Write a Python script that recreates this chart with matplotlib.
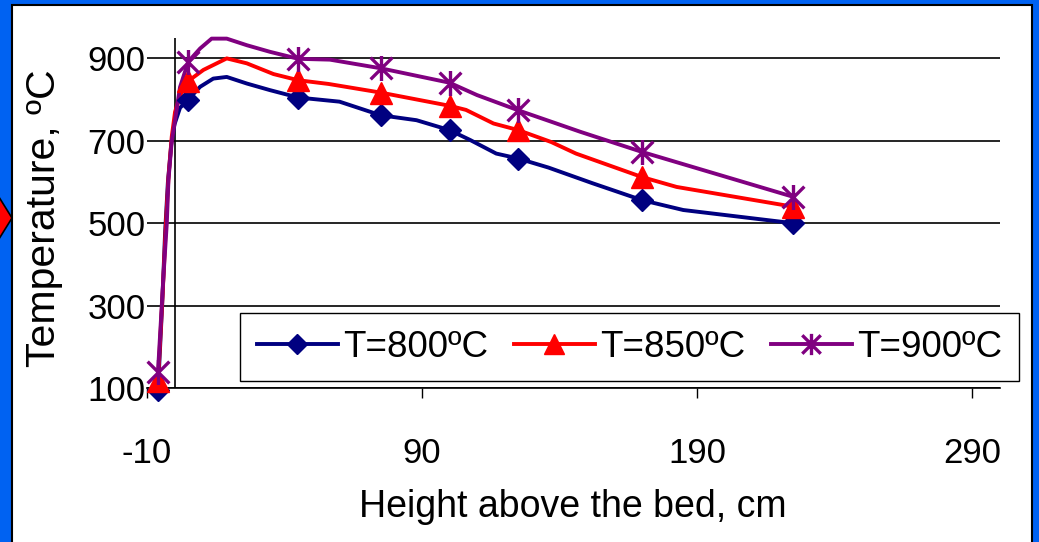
import matplotlib
matplotlib.use("Agg")
import matplotlib.pyplot as plt
from matplotlib.lines import Line2D
from matplotlib.path import Path
from matplotlib.patches import Rectangle, Polygon

plt.rcParams['font.family'] = ['Liberation Sans', 'DejaVu Sans']
plt.rcParams['axes.unicode_minus'] = False

# ---- data ----
labels = ["T=800ºC", "T=850ºC", "T=900ºC"]
colors = ["#000080", "#FF0000", "#800080"]

# measured points (markers)
marker_x = [-6, 5, 45, 75, 100, 125, 170, 225]
marker_800 = [95, 800, 805, 762, 726, 657, 556, 500]
marker_850 = [117, 845, 847, 817, 785, 726, 612, 540]
marker_900 = [140, 892, 899, 876, 841, 774, 673, 564]

# profile lines
line_x_800 = [-6, -4.5, -3.4, -2.4, -1.2, 0, 2, 5, 9.3, 14.1, 19, 26.3, 34.7, 45, 60, 75,
              88, 100, 107.5, 117, 125, 136, 152, 170, 185, 225]
line_y_800 = [95, 300, 480, 600, 690, 740, 780, 800, 831, 851, 855, 839, 823, 805, 795, 762,
              750, 726, 702, 669, 657, 635, 597, 556, 532, 500]
line_x_850 = [-6, -4.3, -3.1, -2.2, -1, 0.2, 2, 5, 10.5, 19, 26.3, 36, 45, 56, 75,
              100, 106, 116, 125, 137, 146, 170, 182.6, 225]
line_y_850 = [117, 330, 500, 610, 710, 770, 810, 845, 872, 900, 888, 862, 847, 838, 817,
              785, 775, 742, 726, 697, 669, 612, 588, 540]
line_x_900 = [-6, -4.1, -2.8, -2.2, -1, 0.2, 2, 5, 9.3, 13.5, 19, 26.3, 34.7, 45, 56.5, 75,
              100, 110, 125, 138, 147.5, 170, 225]
line_y_900 = [140, 362, 500, 605, 700, 750, 830, 892, 924, 948, 948, 932, 916, 899, 897, 876,
              841, 811, 774, 744, 722, 673, 564]

x_ticks = [-10, 90, 190, 290]
y_ticks = [100, 300, 500, 700, 900]

W, H = 1039, 542
fig = plt.figure(figsize=(W / 100, H / 100), dpi=100)
fig.patch.set_facecolor("#0062F2")

# white slide panel with black border
panel = Rectangle((12 / W, -0.02), (1032 - 12) / W, (H - 5) / H + 0.02,
                  transform=fig.transFigure, facecolor="white", edgecolor="black",
                  linewidth=1.5, zorder=0)
fig.add_artist(panel)
arrow = Polygon([(-0.01, 1 - 182 / H), (12 / W, 1 - 218 / H), (-0.01, 1 - 254 / H)],
                closed=True, transform=fig.transFigure, facecolor="#FF0000",
                edgecolor="black", linewidth=1.2, zorder=1)
fig.add_artist(arrow)

ax = fig.add_axes([147 / W, (H - 388) / H, (999.5 - 147) / W, (388 - 37.8) / H])
ax.set_facecolor("none")
ax.set_xlim(-10, 300)
ax.set_ylim(100, 950)

for s in ["top", "right", "left"]:
    ax.spines[s].set_visible(False)
ax.spines["bottom"].set_color("black")
ax.spines["bottom"].set_linewidth(1.2)
ax.axvline(0, color="black", linewidth=1.2, zorder=1)

ax.set_xticks(x_ticks)
ax.set_yticks(y_ticks)
ax.yaxis.grid(True, color="black", linewidth=1.2)
ax.set_axisbelow(True)
ax.tick_params(axis="x", direction="out", length=7, width=1, colors="black",
               labelsize=25, pad=28)
ax.tick_params(axis="y", length=0, labelsize=25, pad=1)

asterisk = Path([(-1, -1), (1, 1), (-1, 1), (1, -1), (0, -1.15), (0, 1.15)],
                [Path.MOVETO, Path.LINETO, Path.MOVETO, Path.LINETO, Path.MOVETO, Path.LINETO])

series = [
    (line_x_800, line_y_800, marker_800, "D", 11, colors[0]),
    (line_x_850, line_y_850, marker_850, "^", 15.5, colors[1]),
    (line_x_900, line_y_900, marker_900, asterisk, 18, colors[2]),
]
handles = []
lw = 2.8
for lx, ly, my, mk, ms, c in series:
    ax.plot(lx, ly, color=c, linewidth=lw, zorder=3, clip_on=False, solid_joinstyle="round")
    if mk is asterisk:
        ax.plot(marker_x, my, linestyle="none", marker=mk, markersize=ms,
                markeredgecolor=c, markeredgewidth=2.4, zorder=4, clip_on=False)
        h = Line2D([], [], color=c, linewidth=lw, marker=mk, markersize=ms * 0.85,
                   markeredgecolor=c, markeredgewidth=2.4)
    else:
        ax.plot(marker_x, my, linestyle="none", marker=mk, markersize=ms,
                color=c, markeredgecolor=c, zorder=4, clip_on=False)
        h = Line2D([], [], color=c, linewidth=lw, marker=mk, markersize=ms * 0.9,
                   markerfacecolor=c, markeredgecolor=c)
    handles.append(h)

leg = ax.legend(handles, labels, loc="upper left",
                bbox_to_anchor=(240 / W, 1 - 313 / H), bbox_transform=fig.transFigure,
                ncol=3, fontsize=26.5, frameon=True, fancybox=False, shadow=False,
                framealpha=1, edgecolor="black", handlelength=2.2, handletextpad=0.16,
                columnspacing=0.68, borderpad=0.45, borderaxespad=0, numpoints=1)
leg.get_frame().set_linewidth(1.0)
leg.set_zorder(5)

fig.text(573 / W, 1 - 517 / H, "Height above the bed, cm", ha="center", va="baseline",
         fontsize=27)
fig.text(44 / W, 1 - 218 / H, "Temperature, ºC", ha="center", va="center",
         rotation=90, fontsize=29.5)

fig.savefig("out.png", dpi=100, facecolor=fig.get_facecolor())
